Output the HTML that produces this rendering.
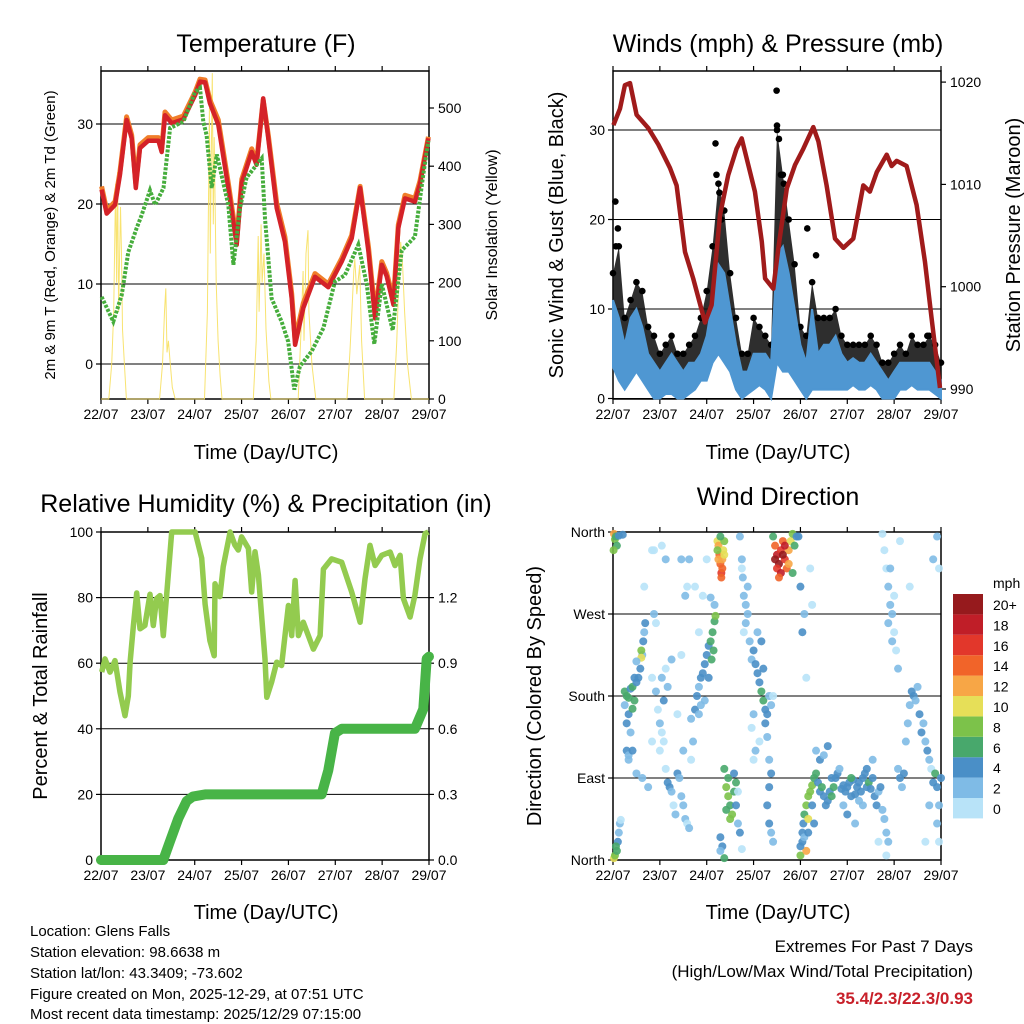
<!DOCTYPE html>
<html><head><meta charset="utf-8">
<style>
html,body{margin:0;padding:0;background:#fff;}
svg{display:block;font-family:"Liberation Sans",sans-serif;}
</style></head>
<body>
<svg id="root" width="1024" height="1024" viewBox="0 0 1024 1024" xmlns="http://www.w3.org/2000/svg">
<rect width="1024" height="1024" fill="#fff"/>
<g id="texts" fill="#000">
<text x="266" y="52" font-size="25" text-anchor="middle">Temperature (F)</text>
<text x="778" y="52" font-size="25" text-anchor="middle">Winds (mph) &amp; Pressure (mb)</text>
<text x="266" y="512" font-size="25" text-anchor="middle">Relative Humidity (%) &amp; Precipitation (in)</text>
<text x="778" y="505" font-size="25" text-anchor="middle">Wind Direction</text>
<text x="266" y="459" font-size="20" text-anchor="middle">Time (Day/UTC)</text>
<text x="778" y="459" font-size="20" text-anchor="middle">Time (Day/UTC)</text>
<text x="266" y="919" font-size="20" text-anchor="middle">Time (Day/UTC)</text>
<text x="778" y="919" font-size="20" text-anchor="middle">Time (Day/UTC)</text>
<text transform="translate(55,235) rotate(-90)" font-size="15" text-anchor="middle">2m &amp; 9m T (Red, Orange) &amp; 2m Td (Green)</text>
<text transform="translate(497,235) rotate(-90)" font-size="16" text-anchor="middle">Solar Insolation (Yellow)</text>
<text transform="translate(563,235) rotate(-90)" font-size="20" text-anchor="middle">Sonic Wind &amp; Gust (Blue, Black)</text>
<text transform="translate(1020,235) rotate(-90)" font-size="20" text-anchor="middle">Station Pressure (Maroon)</text>
<text transform="translate(47,696) rotate(-90)" font-size="20" text-anchor="middle">Percent &amp; Total Rainfall</text>
<text transform="translate(541,696) rotate(-90)" font-size="20" text-anchor="middle">Direction (Colored By Speed)</text>
<g font-size="15">
<text x="30" y="936">Location: Glens Falls</text>
<text x="30" y="957">Station elevation: 98.6638 m</text>
<text x="30" y="978">Station lat/lon: 43.3409; -73.602</text>
<text x="30" y="999">Figure created on Mon, 2025-12-29, at 07:51 UTC</text>
<text x="30" y="1019">Most recent data timestamp: 2025/12/29 07:15:00</text>
</g>
<g font-size="17" text-anchor="end">
<text x="973" y="952">Extremes For Past 7 Days</text>
<text x="973" y="977">(High/Low/Max Wind/Total Precipitation)</text>
<text x="973" y="1004" fill="#c8202a" font-weight="bold">35.4/2.3/22.3/0.93</text>
</g>
</g>
<g id="plots"></g>
</svg>
<script>
// ---------- DATA ----------
const dayLabels = ["22/07","23/07","24/07","25/07","26/07","27/07","28/07","29/07"];
const tempTicks = [0,10,20,30];
const solarTicks = [0,100,200,300,400,500];
const windTicks = [0,10,20,30];
const presTicks = [990,1000,1010,1020];
const rhTicks = [0,20,40,60,80,100];
const rainTicks = ["0.0","0.3","0.6","0.9","1.2"];
const dirTicks = ["North","East","South","West","North"];
const speedBins = ["0","2","4","6","8","10","12","14","16","18","20+"];

const tempT = [0.3,2.9,7.2,9.7,13.1,15.7,17.8,20,24.2,29.4,31.1,32.8,36.2,42.2,48.2,50.7,53.3,55.8,60.1,65.2,69.5,72.1,77.2,79.7,83.1,85.7,90,94.2,97.7,99.4,103.6,109.6,116.4,123.3,128.4,132.7,137,140.4,143.8,146.3,149.8,152.3,155.7,160.8,163.4,167.7];
const tempV = [21.8,18.8,19.9,23.6,30.5,28.2,22,27,27.9,27.9,26.5,31.1,30.1,30.6,33.6,35.3,35.2,32.6,29.9,22,14.9,22.7,26.5,24.9,33.2,28.2,19.5,15.3,8.2,2.4,7,10.9,9.6,12.8,15.7,22,14,5.7,12.4,11,7.4,17,20.7,20.3,22.5,28.2];
const temp9V = [22.2,19.2,20.3,24.0,30.9,28.6,22.6,27.4,28.3,28.3,26.9,31.5,30.5,31.0,34.0,35.6,35.5,33.0,30.5,22.6,15.5,23.1,26.9,25.3,33.0,28.6,20.1,15.9,8.8,3.0,7.6,11.3,10.0,13.2,16.1,22.2,14.6,6.3,12.8,11.4,8.0,17.4,21.1,20.7,22.9,28.4];
const dewT = [0.3,6.3,10.6,14,18.3,20.8,25.1,27.7,32,35.4,42.2,48.2,50.7,52.4,54.1,56.7,59.3,65.2,67.8,71.2,74.6,82.3,84,87.4,92.5,95.9,99,101.9,107.9,113.9,119.8,124.9,131.8,136.1,140,143.8,149.4,154,160.8,165.1,167.7];
const dewV = [8.4,5.3,8.6,14,17,18.6,21.7,19.9,22,29.5,30.3,34,34.5,30.3,28.6,22,26.2,19.9,12.4,19.5,23.3,25.7,18.2,8.2,5.3,2.8,-3.2,-0.3,1.6,4.5,10.3,11.1,14.9,10,2.5,10,4.2,14.2,15.9,23.7,27.9];
const solarT = [0,4,5.5,6.5,7.5,8,8.5,9,10,10.5,11,12,13,30,31.5,32.5,33.2,33.8,34.5,35.5,36.5,38,53,54.5,55.5,56,56.5,57,57.5,58,59,60,61,62,78,79.5,80.5,81,82,82.5,83.5,84.5,86,87,101,102.5,103.5,104,105,106,106.5,108,110,126,127.5,128.5,129.5,130,131,132.5,133.5,135,150,151.5,152.5,153.5,154.5,155.5,157,159,168];
const solarV = [0,0,60,150,370,200,390,150,330,250,120,60,0,0,60,150,190,80,100,60,20,0,0,150,500,250,420,560,300,450,200,100,40,0,0,100,280,150,300,200,250,120,30,0,0,120,220,100,250,290,150,60,0,0,80,150,220,240,180,230,100,0,0,100,200,270,230,150,60,0,0];

const windT = [0,3,6,9,12,15,18,21,24,27,30,33,36,39,42,45,48,51,54,57,60,63,66,69,72,75,78,81,84,87,90,93,96,99,102,105,108,111,114,117,120,123,126,129,132,135,138,141,144,147,150,153,156,159,162,165,168];
const windLo = [3.5,2,1,2,3,2,1,0,0,0.5,0.5,0,0,0.5,1,2,2,4,5,4,3,1,0,0.5,1,1.5,1,0,4,3,3,2,1,0,1,1,1,1,1,1,1,1.5,1,1,1.5,1,0,0,0,1,1,1.5,1,1,1,0.5,0];
const windHi = [11,9,6,9,10,8,5,4,3,4,5,4,3,4,4,5,7,11,15,14,10,6,3,3,5,5,5,4,16,17,14,10,6,4,10,5,6,6,7,5,4,4.5,4,4,5,4,3,2,3,4,4,4,4,4,4,3,2];
const gustV = [14,17,9,11,13,12,8,7,5,6,7,5,5,6,7,9,12,17,24,21,14,9,5,5,9,8,7,6,30,25,20,15,8,7,13,9,9,9,10,7,6,6,6,6,7,6,4,4,5,6,5,7,6,6,7,6,4];
const peakT = [1.2,1.5,2.5,52.5,53,54.5,55.5,83.8,84,85,86,87.5,99.5,104,161];
const peakV = [22,17,19,28.5,25,23,20,34.4,30.5,29,25,24,19,16,7];

const presT = [0.2,3.6,6.1,8.7,12.1,18.1,23.2,29.2,32.6,36.9,41.1,47.1,50.5,54.8,59,63.3,65.9,69.3,72.7,76.2,77.9,82.1,84.7,89,93.2,97.5,102.6,105.2,109.4,113.7,118,123.1,128.2,131.6,135.1,140.2,142.7,145.3,150.4,155.5,159.8,163.2,167.5];
const presV = [1015.8,1017.4,1019.7,1019.9,1016.8,1015.5,1013.9,1011.6,1009.9,1003.4,1000.8,996.5,998.2,1007,1010.9,1013.5,1014.5,1011.9,1009.3,1004.4,1000.8,999.8,1003.8,1009.6,1011.9,1013.5,1015.6,1014.2,1009.9,1004.7,1003.8,1004.7,1009.9,1009.3,1011.2,1012.9,1011.8,1012.3,1011.8,1008,1002.4,996.9,990.1];

const rhT = [0.34,2.05,4.61,7.17,9.73,12.29,14,14.9,16.6,18.3,20,22.5,25.1,26.8,28.5,30.2,31.9,33.6,36.2,43,48.2,51.6,53.3,55.8,58,58.4,60.9,62.6,66.1,68.6,70.3,72,75.5,77.2,78.9,80.6,84,84.9,87.4,90,92.5,96,97.7,99.4,101.1,103.6,108.8,112.2,113.9,118.1,123.3,128.4,132.7,135.2,137.8,140.4,143.8,148.1,150.6,153.2,154.9,158.3,160.8,163.4,166,167.7];
const rhV = [57.3,61.3,57.3,60.8,51.2,44,50,60.3,71.5,81.4,70.5,71.5,81,71.5,79.7,80.6,68.4,80.6,100,100,100,92,78,66.9,62.3,84.2,80.3,89.4,100,96,94.5,98.5,95,81.7,94,86.9,61.3,49.6,54.2,60.3,59.3,77.6,68.4,85.2,68.4,72.5,64.3,68.4,88.7,91.8,90.8,81.7,72.5,85.7,95.9,89.8,92.9,93.9,89.8,92.9,79.7,74.1,80.7,91.8,99.5,100];
const rainT = [0,31.9,35.3,39.6,43.9,47,53.3,113,116.4,119.8,123.3,160.8,165.1,166.8,168];
const rainV = [0,0,0.084,0.19,0.27,0.29,0.3,0.3,0.41,0.58,0.6,0.6,0.69,0.92,0.93];

const dirT = [0.5,1,1.5,3,2,5,0.3,0.5,1,2,2.5,3,3.5,1.5,4,
6,7,8,9,10,11,12,13,14,15,15.5,16,16.5,14.5,14.5,8,7,9,7,8,12,11,6,10,
8,10,12,15,18,20,16,20,21,21,22,20,
22,23,24,25,26,27,28,29,30,31,32,33,34,35,36,37,38,39,40,41,26,28,30,27,25,24,36,33,35,38,39,37,
40,42,43,44,45,46,47,48,49,50,51,52,52.5,51.5,50.5,49,47,45,44,46,48,52,50,44,42,
53.5,54,54.5,55,55.5,56,56.5,57,55,54,56,57,55.5,53.5,
57,58,59,60,61,62,63,59,60,58,62,63,64,65,55,56,55,57,66,64,
65,66,66.5,67,68,69,68,67,66,69,70,71,
72,73,74,75,76,77,78,79,80,81,76,74,77,78,79,72,73,75,80,81,80,79,80,81,82,82,71,72,
82,83,84,85,86,87,88,89,90,91,92,93,84,86,88,85,90,83,87,94,92,
95,96,97,98,99,
96,97,97.5,98,99,100,101,102,103,104,105,106,107,108,109,110,111,112,113,114,115,116,97,99,100,104,106,108,110,112,98,100,102,103,96,
117,118,119,120,121,122,123,124,125,126,127,128,129,130,131,132,133,134,135,136,137,138,139,140,141,118,120,122,126,130,133,128,124,136,140,
138,139,140,141,142,143,144,145,146,141,143,144,142,147,
146,147,148,149,150,151,152,153,154,155,156,157,158,159,160,161,162,163,164,165,166,167,166,167,168,162,160,164,166,167,152,
27,25,35,101,102];
const dirV = [358,352,355,356,345,357,340,2,5,10,20,30,40,15,44,
185,180,178,188,190,175,195,200,210,225,240,250,260,230,222,160,150,140,120,115,218,200,170,166,
110,120,95,90,80,130,300,340,340,270,260,200,
185,165,150,140,130,100,85,80,75,60,50,95,90,70,60,45,40,35,110,130,175,190,220,210,200,120,120,160,225,300,330,290,
155,165,180,190,200,205,215,225,235,240,250,262,268,230,220,200,175,170,160,290,330,280,288,250,300,
350,345,335,325,315,320,340,350,355,330,330,335,310,340,
100,80,70,60,50,75,85,90,45,55,95,60,40,30,25,15,10,2,12,75,
355,330,310,290,280,270,260,250,320,300,240,220,
230,215,205,195,185,175,165,160,180,170,240,250,210,150,135,160,120,130,110,95,80,60,40,30,20,180,145,110,
355,345,335,325,340,350,330,320,340,350,358,345,320,315,345,310,325,330,335,355,315,
355,300,250,270,200,
5,20,40,50,60,70,75,82,90,95,85,75,80,70,60,65,75,70,80,90,95,100,30,10,45,120,110,115,125,90,25,30,60,40,15,
78,82,75,80,85,70,88,72,80,85,75,90,95,80,85,78,90,70,60,75,80,55,45,30,20,60,50,90,65,100,110,60,40,20,5,
358,340,320,300,280,270,250,230,210,260,240,290,320,350,
100,90,80,95,130,150,170,185,180,175,190,160,140,150,130,120,110,100,85,95,80,60,40,20,90,60,20,330,355,320,300,
330,345,330,320,280];
const dirS = [12,8,6,4,7,4,8,10,8,7,4,3,2,6,1,
6,7,6,4,6,7,4,4,4,3,4,3,4,8,10,4,4,3,4,3,3,4,3,6,
2,4,2,3,2,1,1,1,1,2,1,0,
3,1,2,1,0,1,4,4,3,1,2,4,3,2,3,2,1,2,1,2,4,3,2,1,2,0,2,1,1,1,2,2,
3,4,4,3,4,4,5,4,5,6,6,7,8,6,6,4,3,2,3,1,0,3,2,1,1,
10,12,14,14,16,14,10,8,7,12,12,11,14,8,
6,8,8,7,8,7,6,6,8,7,4,4,3,4,4,4,3,6,1,1,
2,3,3,3,2,2,2,1,1,2,2,3,
4,4,4,5,6,6,4,4,3,3,4,3,4,4,3,3,2,1,3,4,4,4,4,3,2,0,1,1,
6,14,18,20,16,14,16,14,12,10,8,6,16,18,18,14,12,20,20,4,6,
4,4,4,2,1,
8,4,4,6,8,8,8,8,6,6,4,4,6,4,4,4,4,6,6,4,4,2,4,12,10,2,4,2,4,4,2,4,4,4,4,
4,4,4,4,4,4,4,4,4,4,4,4,4,4,6,4,4,4,4,2,4,2,2,2,2,2,4,6,2,4,2,2,2,1,0,
1,1,1,2,2,2,1,1,2,3,2,1,2,1,
2,4,2,4,2,3,2,4,4,3,2,4,4,3,2,4,2,1,4,6,4,2,2,1,4,2,1,2,2,1,1,
2,1,2,1,1];
const binColors = ["#b8e3f8","#7fbbe6","#4a8fc7","#48a86c","#7cc24a","#e6df58","#f7a646","#f16429","#e2372b","#c01e28","#961a1d"];

// ---------- DRAW ----------
const NS = "http://www.w3.org/2000/svg";
const plots = document.getElementById("plots");
function mk(tag, attrs, parent){
  const e = document.createElementNS(NS, tag);
  for (const k in attrs) e.setAttribute(k, attrs[k]);
  (parent||plots).appendChild(e);
  return e;
}
const W = 328;
function panelX(x0){ return h => x0 + h/168*W; }
function pathD(xs, ys){ return xs.map((x,i)=>(i?"L":"M")+x.toFixed(1)+","+ys[i].toFixed(1)).join(""); }

function frame(x0, y0, y1, name){
  const g = mk("g", {});
  
  
  mk("rect", {x:x0, y:y0, width:W, height:y1-y0, fill:"none", stroke:"#000", "stroke-width":1.5}, g);
  for (let i=0;i<dayLabels.length;i++){
    const x = x0 + i*W/7;
    mk("line",{x1:x,y1:y1,x2:x,y2:y1+5,stroke:"#000","stroke-width":1.2},g);
    mk("line",{x1:x,y1:y0,x2:x,y2:y0-5,stroke:"#000","stroke-width":1.2},g);
    const t = mk("text",{x:x,y:y1+20,"font-size":14,"text-anchor":"middle"},g);
    t.textContent = dayLabels[i];
    
    
  }
  return g;
}
function yAxis(g, x0, ys, labels, side, grid){
  ys.forEach((y,i)=>{
    if (grid) mk("line",{x1:x0,y1:y,x2:x0+W,y2:y,stroke:"#000","stroke-width":1},g);
    const xe = side==="L"? x0 : x0+W;
    const d = side==="L"? -5 : 5;
    mk("line",{x1:xe,y1:y,x2:xe+d,y2:y,stroke:"#000","stroke-width":1.2},g);
    const t = mk("text",{x: side==="L"? xe-8 : xe+9, y:y+5, "font-size":14, "text-anchor": side==="L"?"end":"start"},g);
    t.textContent = labels[i];
    
    
  });
}

// Panel 1: Temperature
(function(){
  const X = panelX(101), top=71, bot=399;
  const yT = v => 364 - v*8;
  const yS = v => 399 - v*0.582;
  const g = frame(101, top, bot, "temperature");
  yAxis(g, 101, tempTicks.map(yT), tempTicks, "L", true);
  yAxis(g, 101, solarTicks.map(yS), solarTicks, "R", false);
  const s = mk("path",{d:pathD(solarT.map(X), solarV.map(yS)), fill:"none", stroke:"#f7e060", "stroke-width":1, opacity:0.9});
  
  
  const o = mk("path",{d:pathD(tempT.map(X), temp9V.map(yT)), fill:"none", stroke:"#f07e2a", "stroke-width":5, "stroke-linejoin":"round"});
  
  
  const r = mk("path",{d:pathD(tempT.map(X), tempV.map(yT)), fill:"none", stroke:"#d42228", "stroke-width":4.5, "stroke-linejoin":"round"});
  
  
  const d = mk("path",{d:pathD(dewT.map(X), dewV.map(yT)), fill:"none", stroke:"#46ad3c", "stroke-width":4, "stroke-dasharray":"3 1.5"});
  
  
})();

// Panel 2: Winds & pressure
(function(){
  const X = panelX(613), top=71, bot=399;
  const yW = v => 398.5 - v*8.95;
  const yP = v => 389 - (v-990)*10.23;
  const g = frame(613, top, bot, "winds");
  yAxis(g, 613, windTicks.map(yW), windTicks, "L", true);
  yAxis(g, 613, presTicks.map(yP), presTicks, "R", false);
  const gustArea = windT.map(X).map((x,i)=>[x,yW(gustV[i])]).concat(windT.map(X).map((x,i)=>[x,yW(windHi[i])]).reverse());
  const ga = mk("path",{d:"M"+gustArea.map(p=>p[0].toFixed(1)+","+p[1].toFixed(1)).join("L")+"Z", fill:"#111", opacity:0.88});
  
  
  windT.forEach((t,i)=>{
    const c = mk("circle",{cx:X(t), cy:yW(gustV[i]), r:3.3, fill:"#000"});
    
    
  });
  peakT.forEach((t,i)=>{
    const c = mk("circle",{cx:X(t), cy:yW(peakV[i]), r:3.3, fill:"#000"});
    
    
  });
  const band = windT.map(X).map((x,i)=>[x,yW(windHi[i])]).concat(windT.map(X).map((x,i)=>[x,yW(windLo[i])]).reverse());
  const b = mk("path",{d:"M"+band.map(p=>p[0].toFixed(1)+","+p[1].toFixed(1)).join("L")+"Z", fill:"#4f97d2", stroke:"#4f97d2", "stroke-width":2});
  
  
  const p = mk("path",{d:pathD(presT.map(X), presV.map(yP)), fill:"none", stroke:"#a01b1b", "stroke-width":4.5, "stroke-linejoin":"round"});
  
  
})();

// Panel 3: RH & precip
(function(){
  const X = panelX(101), top=532, bot=860;
  const yR = v => 860 - v*3.28;
  const yP = v => 860 - v/1.5*328;
  const g = frame(101, top, bot, "rh");
  yAxis(g, 101, rhTicks.map(yR), rhTicks, "L", true);
  yAxis(g, 101, rainTicks.map(v=>yP(parseFloat(v))), rainTicks, "R", false);
  const r = mk("path",{d:pathD(rhT.map(X), rhV.map(v=>yR(Math.min(v,100)))), fill:"none", stroke:"#93cb4f", "stroke-width":5.5, "stroke-linejoin":"round"});
  
  
  const p = mk("path",{d:pathD(rainT.map(X), rainV.map(yP)), fill:"none", stroke:"#48b447", "stroke-width":10, "stroke-linejoin":"round", "stroke-linecap":"round"});
  
  
})();

// Panel 4: Wind direction
(function(){
  const X = panelX(613), top=532, bot=860;
  const yD = v => 860 - v/360*328;
  const g = frame(613, top, bot, "wind-direction");
  yAxis(g, 613, [0,90,180,270,360].map(yD), dirTicks, "L", true);
  dirT.forEach((t,i)=>{
    const bin = Math.min(10, Math.floor(dirS[i]/2));
    const c = mk("circle",{cx:X(t), cy:yD(dirV[i]), r:4, fill:binColors[bin], opacity:0.9});
    
    
  });
  const lg = mk("g",{});
  
  
  const ut = mk("text",{x:993,y:588,"font-size":14},lg);
  ut.textContent = "mph";
  for (let i=0;i<speedBins.length;i++){
    const y = 594 + (10-i)*20.4;
    mk("rect",{x:953,y:y,width:30,height:20.4,fill:binColors[i]},lg);
    const t = mk("text",{x:993,y:y+16,"font-size":14},lg);
    t.textContent = speedBins[i];
    
    
  }
})();
</script>
</body></html>
